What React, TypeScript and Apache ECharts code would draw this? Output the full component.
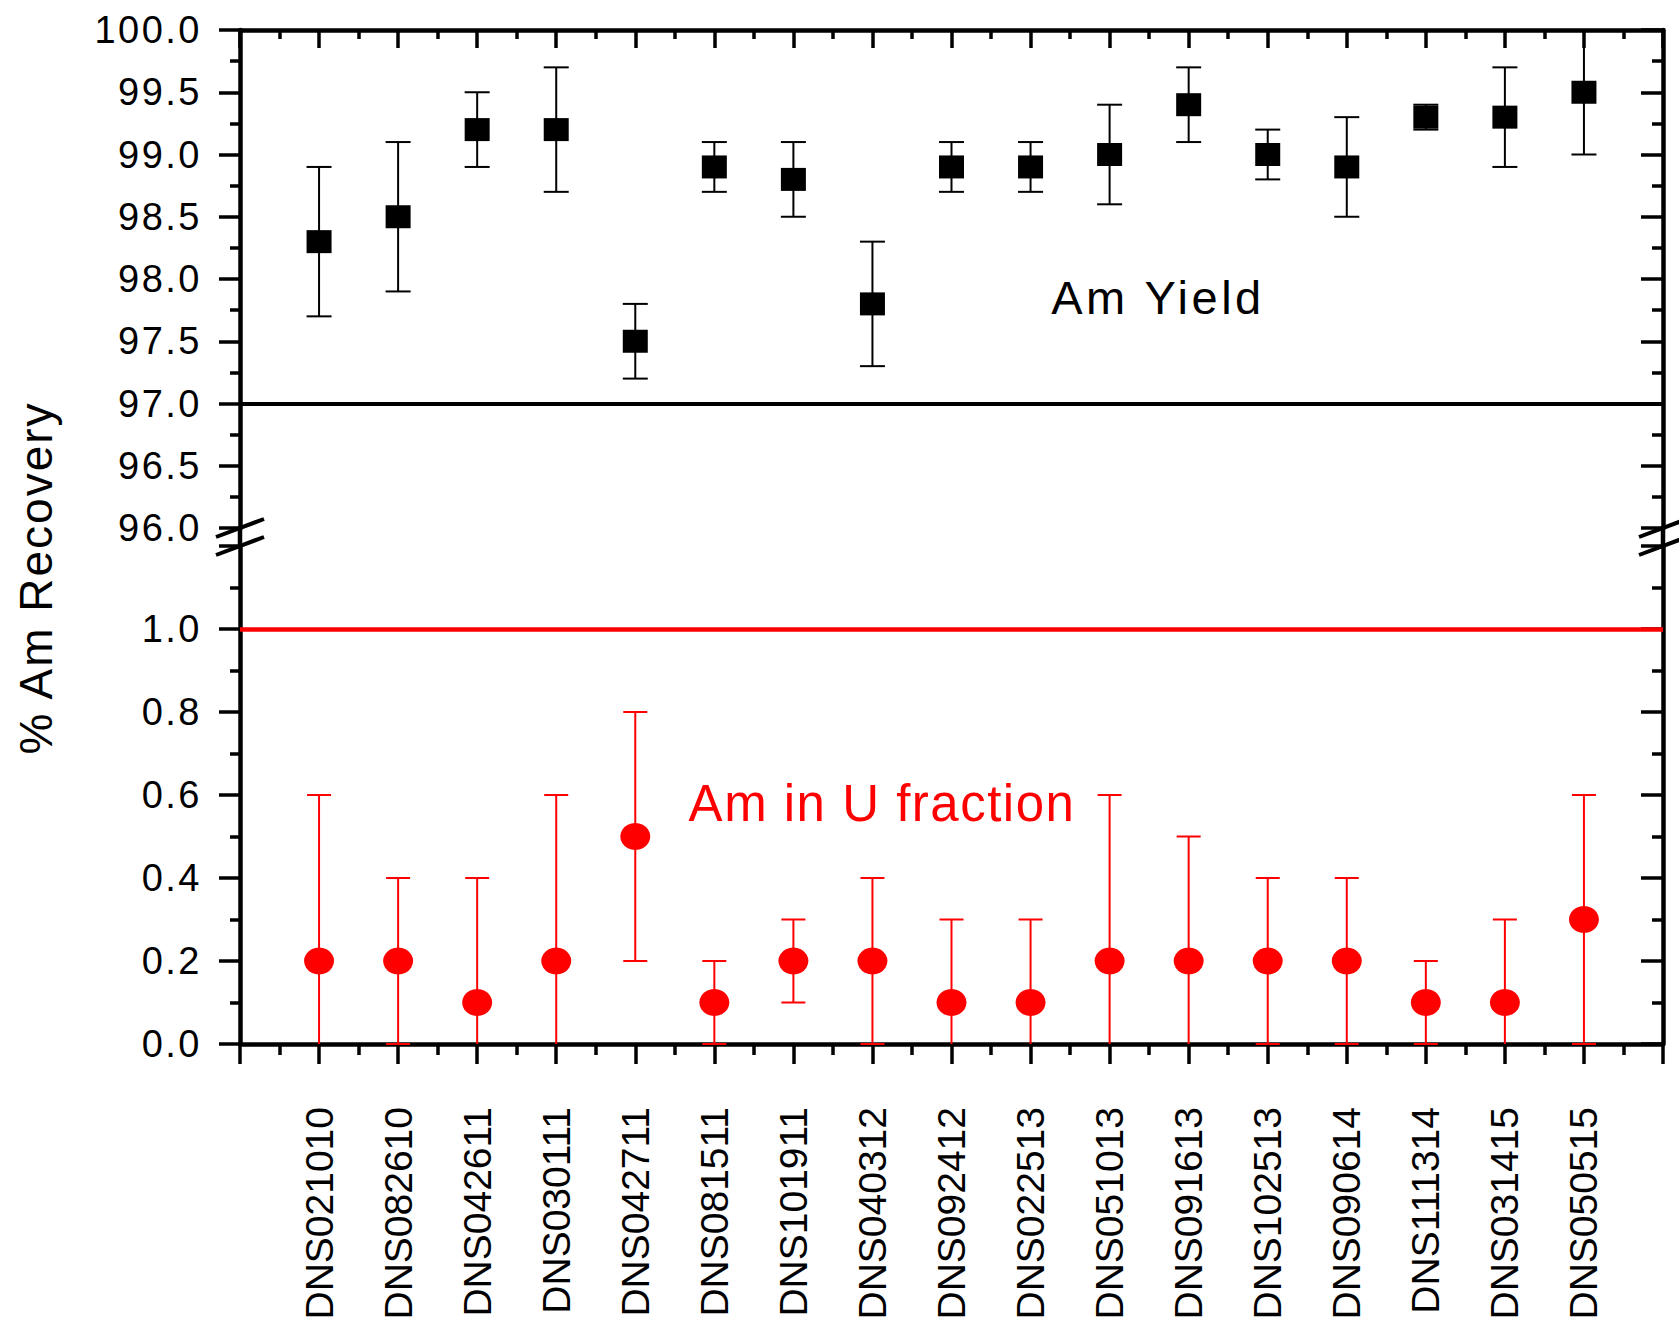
import React, { useEffect, useRef } from "react";
import * as echarts from "echarts";

const categories = [
  "DNS021010", "DNS082610", "DNS042611", "DNS030111", "DNS042711", "DNS081511",
  "DNS101911", "DNS040312", "DNS092412", "DNS022513", "DNS051013", "DNS091613",
  "DNS102513", "DNS090614", "DNS111314", "DNS031415", "DNS050515",
];
const yieldValues = [98.3, 98.5, 99.2, 99.2, 97.5, 98.9, 98.8, 97.8, 98.9, 98.9, 99.0, 99.4, 99.0, 98.9, 99.3, 99.3, 99.5];
const yieldErrors = [0.6, 0.6, 0.3, 0.5, 0.3, 0.2, 0.3, 0.5, 0.2, 0.2, 0.4, 0.3, 0.2, 0.4, 0.1, 0.4, 0.5];
const uFractionValues = [0.2, 0.2, 0.1, 0.2, 0.5, 0.1, 0.2, 0.2, 0.1, 0.1, 0.2, 0.2, 0.2, 0.2, 0.1, 0.1, 0.3];
const uFractionErrors = [0.4, 0.2, 0.3, 0.4, 0.3, 0.1, 0.1, 0.2, 0.2, 0.2, 0.4, 0.3, 0.2, 0.2, 0.1, 0.2, 0.3];
const yieldReference = 97.0;
const uFractionReference = 1.0;

const FONT = '"Liberation Sans", Arial, Helvetica, sans-serif';

const LEFT = 240;
const RIGHT_X = 1663;
const UP_TOP = 30;
const UP_BOTTOM = 528;
const LO_TOP = 546;
const LO_BOTTOM = 1044;

function errorBarRenderer(color: string, capW: number, lw: number, yMin: number) {
  return (params: any, api: any) => {
    const x = api.value(0);
    const lo = api.value(1);
    const hi = api.value(2);
    const loC = Math.max(lo, yMin);
    const top = api.coord([x, hi]);
    const bot = api.coord([x, loC]);
    const style = { stroke: color, lineWidth: lw };
    const children: any[] = [
      { type: "line", shape: { x1: top[0], y1: top[1], x2: bot[0], y2: bot[1] }, style },
      { type: "line", shape: { x1: top[0] - capW / 2, y1: top[1], x2: top[0] + capW / 2, y2: top[1] }, style },
    ];
    if (lo >= yMin - 1e-9) {
      children.push({ type: "line", shape: { x1: bot[0] - capW / 2, y1: bot[1], x2: bot[0] + capW / 2, y2: bot[1] }, style });
    }
    return { type: "group", children };
  };
}

const axisLineStyle = { color: "#000", width: 4.5 };
const tickStyle = { color: "#000", width: 3.5 };

function spacingFor(text: string): number {
  if (/^\d+\.\d$/.test(text)) return 2.5;
  if (text === "Am Yield") return 3.5;
  if (text === "% Am Recovery") return 2;
  if (text === "Am in U fraction") return 1.5;
  return 0;
}

export default function App() {
  const ref = useRef<HTMLDivElement>(null);
  useEffect(() => {
    if (!ref.current) return;
    const el = ref.current;
    const chart = echarts.init(el, undefined, { renderer: "svg" });
    const yieldErr = yieldValues.map((v, i) => [i + 1, v - yieldErrors[i], v + yieldErrors[i]]);
    const uErr = uFractionValues.map((v, i) => [i + 1, v - uFractionErrors[i], v + uFractionErrors[i]]);

    const breakMarks = (cx: number) => [
      { type: "line", shape: { x1: cx, y1: UP_BOTTOM, x2: cx, y2: LO_TOP }, style: { stroke: "#000", lineWidth: 4.5 } },
      { type: "line", shape: { x1: cx - 24, y1: UP_BOTTOM + 9, x2: cx + 24, y2: UP_BOTTOM - 9 }, style: { stroke: "#000", lineWidth: 4 } },
      { type: "line", shape: { x1: cx - 24, y1: LO_TOP + 9, x2: cx + 24, y2: LO_TOP - 9 }, style: { stroke: "#000", lineWidth: 4 } },
    ];

    const option: any = {
      animation: false,
      backgroundColor: "#fff",
      grid: [
        { left: LEFT, top: UP_TOP, width: RIGHT_X - LEFT, height: UP_BOTTOM - UP_TOP },
        { left: LEFT, top: LO_TOP, width: RIGHT_X - LEFT, height: LO_BOTTOM - LO_TOP },
      ],
      xAxis: [
        {
          gridIndex: 0, type: "value", position: "top", min: 0, max: 18, interval: 1,
          axisLine: { show: true, onZero: false, lineStyle: axisLineStyle },
          axisTick: { show: true, inside: true, length: 18, lineStyle: tickStyle },
          minorTick: { show: true, splitNumber: 2, length: 9, lineStyle: tickStyle },
          axisLabel: { show: false },
          splitLine: { show: false },
        },
        {
          gridIndex: 1, type: "value", position: "bottom", min: 0, max: 18, interval: 1,
          axisLine: { show: true, onZero: false, lineStyle: axisLineStyle },
          axisTick: { show: true, inside: false, length: 20, lineStyle: tickStyle },
          minorTick: { show: true, splitNumber: 2, length: 11, lineStyle: tickStyle },
          axisLabel: {
            show: true, rotate: 90, margin: 63, fontSize: 39, fontFamily: FONT, color: "#000",
            formatter: (v: number) => (Number.isInteger(v) && v >= 1 && v <= categories.length ? categories[v - 1] : ""),
          },
          splitLine: { show: false },
        },
      ],
      yAxis: [
        {
          gridIndex: 0, type: "value", position: "left", min: 96, max: 100, interval: 0.5,
          axisLine: { show: true, onZero: false, lineStyle: axisLineStyle },
          axisTick: { show: true, inside: false, length: 21, lineStyle: tickStyle },
          minorTick: { show: true, splitNumber: 2, length: 10, lineStyle: tickStyle },
          axisLabel: { show: true, margin: 38, fontSize: 38, fontFamily: FONT, color: "#000", formatter: (v: number) => v.toFixed(1) },
          splitLine: { show: false },
        },
        {
          gridIndex: 0, type: "value", position: "right", min: 96, max: 100, interval: 0.5,
          axisLine: { show: true, onZero: false, lineStyle: axisLineStyle },
          axisTick: { show: true, inside: true, length: 22, lineStyle: tickStyle },
          minorTick: { show: true, splitNumber: 2, length: 11, lineStyle: tickStyle },
          axisLabel: { show: false },
          splitLine: { show: false },
        },
        {
          gridIndex: 1, type: "value", position: "left", min: 0, max: 1.2, interval: 0.2,
          axisLine: { show: true, onZero: false, lineStyle: axisLineStyle },
          axisTick: { show: true, inside: false, length: 21, lineStyle: tickStyle },
          minorTick: { show: true, splitNumber: 2, length: 10, lineStyle: tickStyle },
          axisLabel: {
            show: true, margin: 38, fontSize: 38, fontFamily: FONT, color: "#000",
            formatter: (v: number) => (v > 1.1 ? "" : v.toFixed(1)),
          },
          splitLine: { show: false },
        },
        {
          gridIndex: 1, type: "value", position: "right", min: 0, max: 1.2, interval: 0.2,
          axisLine: { show: true, onZero: false, lineStyle: axisLineStyle },
          axisTick: { show: true, inside: true, length: 22, lineStyle: tickStyle },
          minorTick: { show: true, splitNumber: 2, length: 11, lineStyle: tickStyle },
          axisLabel: { show: false },
          splitLine: { show: false },
        },
      ],
      series: [
        {
          type: "custom", name: "Am Yield error", xAxisIndex: 0, yAxisIndex: 0,
          data: yieldErr, encode: { x: 0, y: [1, 2] },
          renderItem: errorBarRenderer("#000", 25, 2, 96), z: 2, silent: true,
        },
        {
          type: "scatter", name: "Am Yield", xAxisIndex: 0, yAxisIndex: 0,
          data: yieldValues.map((v, i) => [i + 1, v]),
          symbol: "rect", symbolSize: [25, 23], itemStyle: { color: "#000", opacity: 1 }, z: 4,
          markLine: {
            silent: true, symbol: "none", label: { show: false },
            lineStyle: { color: "#000", width: 4, type: "solid", opacity: 1 },
            data: [{ yAxis: yieldReference }],
          },
        },
        {
          type: "custom", name: "Am in U fraction error", xAxisIndex: 1, yAxisIndex: 2,
          data: uErr, encode: { x: 0, y: [1, 2] },
          renderItem: errorBarRenderer("#ff0000", 24, 2, 0), z: 2, silent: true,
        },
        {
          type: "scatter", name: "Am in U fraction", xAxisIndex: 1, yAxisIndex: 2,
          data: uFractionValues.map((v, i) => [i + 1, v]),
          symbol: "circle", symbolSize: [30, 27], itemStyle: { color: "#ff0000", opacity: 1 }, z: 4,
          markLine: {
            silent: true, symbol: "none", label: { show: false },
            lineStyle: { color: "#ff0000", width: 4.5, type: "solid", opacity: 1 },
            data: [{ yAxis: uFractionReference }],
          },
        },
      ],
      graphic: [
        ...breakMarks(LEFT),
        ...breakMarks(RIGHT_X),
        {
          type: "text", x: 36, y: 578, rotation: Math.PI / 2,
          style: { text: "% Am Recovery", fontSize: 46, fontFamily: FONT, fill: "#000", align: "center", verticalAlign: "middle" },
        },
        {
          type: "text", x: 1158, y: 297,
          style: { text: "Am Yield", fontSize: 47, fontFamily: FONT, fill: "#000", align: "center", verticalAlign: "middle" },
        },
        {
          type: "text", x: 882, y: 803,
          style: { text: "Am in U fraction", fontSize: 51, fontFamily: FONT, fill: "#ff0000", align: "center", verticalAlign: "middle" },
        },
      ],
    };
    chart.setOption(option);

    const applySpacing = () => {
      el.querySelectorAll("text").forEach((t) => {
        const s = spacingFor((t.textContent || "").trim());
        if (s > 0) t.setAttribute("letter-spacing", String(s));
      });
    };
    applySpacing();
    chart.on("finished", applySpacing);
    return () => chart.dispose();
  }, []);
  return <div ref={ref} style={{ position: "absolute", left: 0, top: 0, width: 1679, height: 1325 }} />;
}
